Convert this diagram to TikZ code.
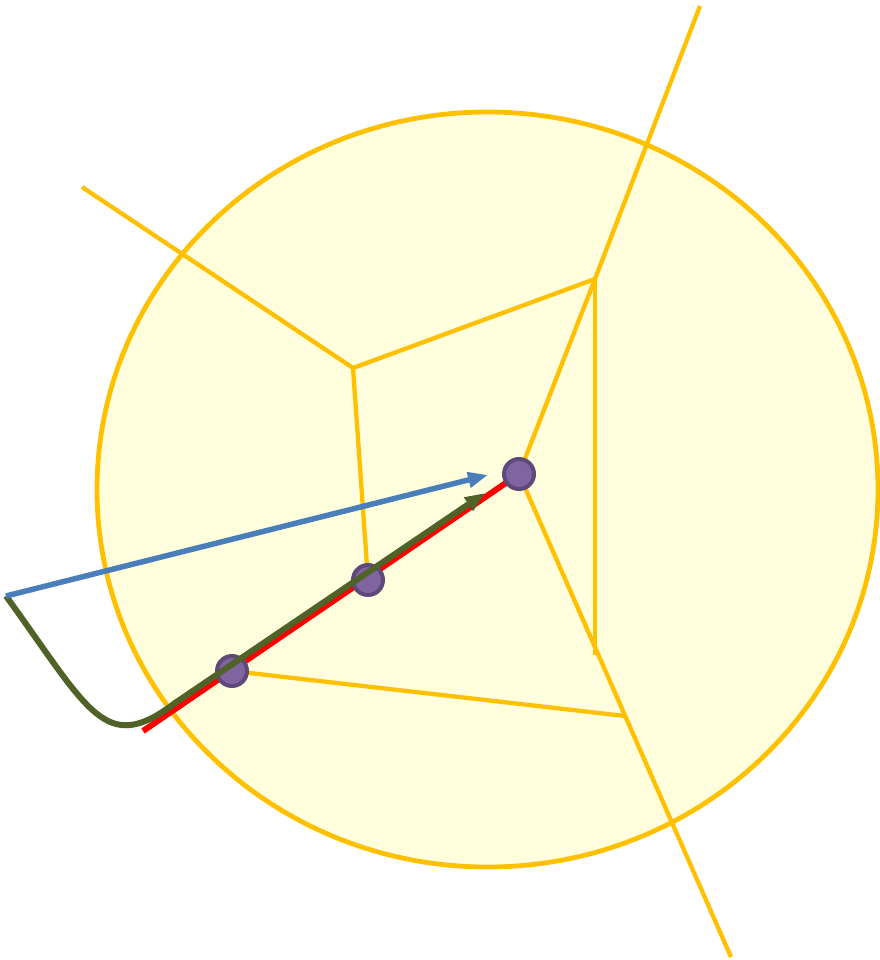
\documentclass[tikz,border=0pt]{standalone}
\usetikzlibrary{arrows.meta}
\definecolor{cfill}{HTML}{FFFFDD}
\definecolor{cyel}{HTML}{FFC000}
\definecolor{cgreen}{HTML}{4F6228}
\definecolor{cblue}{HTML}{4A7EBB}
\definecolor{cdot}{HTML}{8064A2}
\definecolor{cdotb}{HTML}{5F497A}
\begin{document}
\begin{tikzpicture}[x=1pt,y=-1pt,
  edge/.style={draw=cyel,line width=4.3pt},
  dotnode/.style={circle,fill=cdot,draw=cdotb,line width=4pt,minimum size=30pt,inner sep=0pt},
  arr/.style={-{Triangle[length=20pt,width=15pt]}}]
\useasboundingbox (0,0) rectangle (879,960);
\draw[cyel,fill=cfill,line width=4.8pt] (487.5,489.5) ellipse [x radius=390.5, y radius=377.5];
% coordinates
\coordinate (a) at (82,187);
\coordinate (b) at (353,368);
\coordinate (c) at (595,279);
\coordinate (t) at (700,6);
\coordinate (v) at (595,655);
\coordinate (e) at (625,716);
\coordinate (s) at (731,957);
\coordinate (p1) at (232,671);
\coordinate (p2) at (368,580);
\coordinate (p3) at (519,474);
\coordinate (r0) at (143,731);
\coordinate (g0) at (6,596);
\coordinate (g1) at (175,703);
\coordinate (gt) at (485,493);
\coordinate (bt) at (488,475);
% yellow edges
\draw[edge] (a) -- (b);
\draw[edge] (b) -- (c);
\draw[edge] (b) -- (p2);
\draw[edge] (t) -- (c) -- (p3) -- (s);
\draw[edge] (c) -- (v);
\draw[edge] (p1) -- (e);
% red line
\draw[red,line width=6pt] (r0) -- (p3);
% dots
\node[dotnode] (d1) at (p1) {};
\node[dotnode] (d2) at (p2) {};
\node[dotnode] (d3) at (p3) {};
% green curve
\draw[cgreen,line width=6pt,arr] (g0) .. controls (90,712) and (105,756) .. (g1) -- (gt);
% blue arrow
\draw[cblue,line width=5.5pt,arr] (g0) -- (bt);
\end{tikzpicture}
\end{document}
